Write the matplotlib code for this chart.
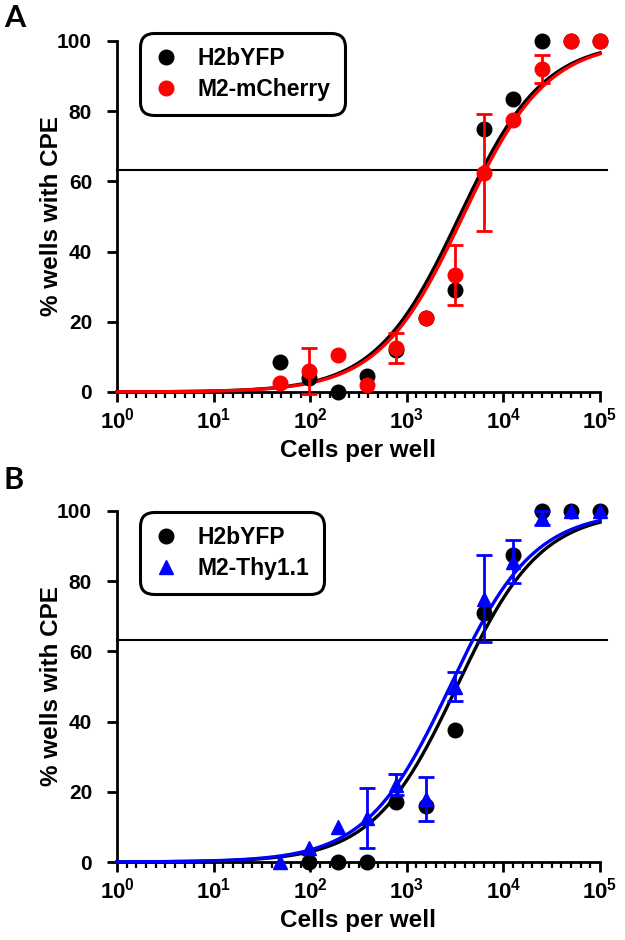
import numpy as np
import matplotlib
matplotlib.use('Agg')
import matplotlib.pyplot as plt
from matplotlib.lines import Line2D
from matplotlib.ticker import FixedLocator, NullFormatter

plt.rcParams['font.family'] = ['Liberation Sans', 'DejaVu Sans']
plt.rcParams['font.weight'] = 'bold'
plt.rcParams['mathtext.fontset'] = 'custom'
plt.rcParams['mathtext.rm'] = 'Liberation Sans:bold'
plt.rcParams['mathtext.bf'] = 'Liberation Sans:bold'

# ---------------- data ----------------
cells = [48.8, 97.7, 195.3, 390.6, 781.3, 1562.5, 3125, 6250, 12500, 25000, 50000, 100000]

a_h2b = [8.5, 4, 0, 4.5, 12, 21, 29, 75, 83.5, 100, 100, 100]
a_m2 = [2.5, 6, 10.5, 2, 12.5, 21, 33.3, 62.5, 77.5, 92, 100, 100]
a_m2_err = [0, 6.5, 0, 0, 4.2, 0, 8.5, 16.7, 0, 4, 0, 0]

b_h2b = [np.nan, 0, 0, 0, 17, 16, 37.6, 71, 87.5, 100, 100, 100]
b_thy = [0, 4, 10, 12.5, 22, 18, 50, 75, 85.5, 98, 100, 100]
b_thy_err = [0, 0, 0, 8.5, 3, 6.3, 4, 12.4, 6.1, 2, 0, 0]

# fitted dose-response parameters (EC50, Hill slope)
fit_a_h2b = (3500, 1.0)
fit_a_m2 = (3800, 1.0)
fit_b_h2b = (3300, 1.0)
fit_b_thy = (2800, 1.0)

threshold = 100 * (1 - np.exp(-1))  # 63.2 %

xticks = [1, 10, 100, 1000, 10000, 100000]
xticklabels = [r'$\mathbf{10^{%d}}$' % k for k in range(6)]
yticks = [0, 20, 40, 60, 80, 100]


def hill(x, ec50, h):
    return 100.0 / (1.0 + (ec50 / x) ** h)


fig = plt.figure(figsize=(6.25, 9.4), dpi=100)
W, H = 625.0, 940.0


def make_ax(top_px, bottom_px):
    left, right = 117, 600
    return fig.add_axes([left / W, 1 - bottom_px / H, (right - left) / W, (bottom_px - top_px) / H])


minor_pos = [10 ** (k + i / 10.0) for k in range(5) for i in range(1, 10)]


def style(ax):
    ax.set_xscale('log')
    ax.set_xlim(1, 1e5)
    ax.set_ylim(0, 100)
    for s in ['top', 'right']:
        ax.spines[s].set_visible(False)
    for s in ['left', 'bottom']:
        ax.spines[s].set_linewidth(2.0)
    ax.set_xticks(xticks)
    ax.set_xticklabels(xticklabels, fontsize=16)
    ax.xaxis.set_minor_locator(FixedLocator(minor_pos))
    ax.xaxis.set_minor_formatter(NullFormatter())
    ax.set_yticks(yticks)
    ax.set_yticklabels([str(v) for v in yticks], fontsize=15, fontweight='bold')
    ax.tick_params(axis='both', which='major', length=7, width=2.0, direction='out')
    ax.tick_params(axis='x', which='minor', length=4, width=1.6, direction='out')
    ax.tick_params(axis='y', which='major', pad=11)
    ax.tick_params(axis='x', which='major', pad=4)
    ax.set_xlabel('Cells per well', fontsize=17.5, fontweight='bold', va='center')
    ax.set_ylabel('% wells with CPE', fontsize=17.5, fontweight='bold', va='center')
    ax.xaxis.set_label_coords(0.5, (392 - 451) / 351.0)
    ax.yaxis.set_label_coords((52 - 117) / 483.0, 0.5)
    ax.plot([1, 1.18e5], [threshold, threshold], color='black', lw=1.5, clip_on=False, zorder=2)


def legend(ax, handles, labels, top_frac):
    leg = ax.legend(handles=handles, labels=labels, loc='upper left',
                    bbox_to_anchor=((140 - 117) / 483.0, top_frac), borderaxespad=0,
                    prop={'weight': 'bold', 'size': 16.5}, handlelength=1.0, handletextpad=0.9,
                    labelspacing=0.35, borderpad=0.62, frameon=True, fancybox=True)
    fr = leg.get_frame()
    fr.set_edgecolor('black'); fr.set_linewidth(2.2); fr.set_alpha(1)
    fr.set_boxstyle('round,pad=0,rounding_size=0.6')
    return leg


xs = np.logspace(0, 5, 400)
ms = 10.5
ca = np.array(cells)

# ---------- Panel A ----------
axA = make_ax(41, 392)
style(axA)
axA.plot(xs, hill(xs, *fit_a_h2b), color='black', lw=2.4, zorder=3, clip_on=False)
axA.plot(xs, hill(xs, *fit_a_m2), color='#ff0000', lw=2.4, zorder=4, clip_on=False)
axA.plot(cells, a_h2b, 'o', color='black', ms=ms, zorder=5, clip_on=False)
axA.plot(cells, a_m2, 'o', color='#ff0000', ms=ms, zorder=6, clip_on=False)
ma = np.array(a_m2); ea = np.array(a_m2_err)
sel = ea > 0
axA.errorbar(ca[sel], ma[sel], yerr=ea[sel], fmt='none', ecolor='#ff0000', elinewidth=2,
             capsize=6, capthick=2, zorder=7, clip_on=False)
legend(axA, [Line2D([], [], marker='o', color='black', ls='none', ms=ms),
             Line2D([], [], marker='o', color='#ff0000', ls='none', ms=ms)],
       ['H2bYFP', 'M2-mCherry'], (392 - 33) / 351.0)

# ---------- Panel B ----------
axB = make_ax(511, 862)
style(axB)
axB.plot(xs, hill(xs, *fit_b_h2b), color='black', lw=2.4, zorder=3, clip_on=False)
axB.plot(xs, hill(xs, *fit_b_thy), color='#0000ff', lw=2.4, zorder=4, clip_on=False)
axB.plot(cells, b_h2b, 'o', color='black', ms=ms, zorder=5, clip_on=False)
axB.plot(cells, b_thy, '^', color='#0000ff', ms=ms, zorder=6, clip_on=False)
mb = np.array(b_thy); eb = np.array(b_thy_err)
sel = eb > 0
axB.errorbar(ca[sel], mb[sel], yerr=eb[sel], fmt='none', ecolor='#0000ff', elinewidth=2,
             capsize=6, capthick=2, zorder=7, clip_on=False)
legend(axB, [Line2D([], [], marker='o', color='black', ls='none', ms=ms),
             Line2D([], [], marker='^', color='#0000ff', ls='none', ms=ms)],
       ['H2bYFP', 'M2-Thy1.1'], (862 - 512) / 351.0)

fig.text(4 / W, 1 - 18 / H, 'A', fontsize=22, fontweight='bold', va='center', ha='left',
         family=['Lato', 'DejaVu Sans'])
fig.text(4 / W, 1 - 480 / H, 'B', fontsize=22, fontweight='bold', va='center', ha='left',
         family=['Lato', 'DejaVu Sans'])

fig.savefig('out.png', dpi=100)
